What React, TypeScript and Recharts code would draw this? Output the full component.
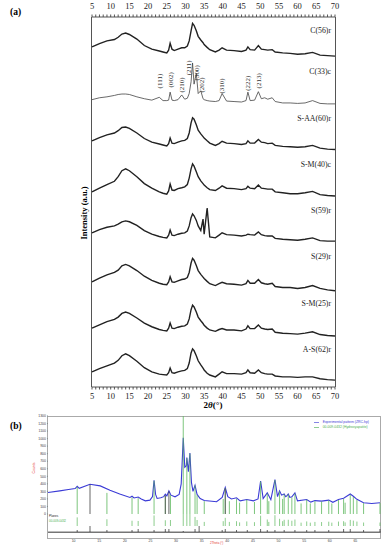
import React from "react";
import { ComposedChart, Line, Scatter, XAxis, YAxis, Legend } from "recharts";

// ---- (a) eight XRD patterns, shared 2θ grid ----
const twoTheta = [5, 7, 9, 11, 12, 13, 14, 15, 17, 19, 21, 23, 24, 25, 25.5, 25.9, 26.4, 27, 28, 29, 29.8, 30.5, 31, 31.5, 31.9, 32.3, 32.9, 33.4, 34.1, 34.7, 35, 35.8, 36.5, 38, 39, 39.8, 41, 43, 45, 46.2, 46.7, 47.3, 48.5, 49.5, 50.3, 51.2, 52, 53.2, 54, 56, 58, 60, 62, 64, 66, 68, 70];

const c56r = [35, 42, 48, 51, 56, 63, 65, 62, 52, 38, 30, 26, 24, 22, 28, 43, 30, 27, 30, 33, 33, 37, 48, 70, 86, 82, 70, 58, 50, 44, 40, 34, 29, 24, 28, 33, 28, 27, 25, 28, 35, 29, 28, 38, 30, 29, 28, 29, 24, 22, 21, 19, 20, 23, 17, 16, 15];
const c33c = [22, 26, 28, 31, 33, 34, 34, 33, 28, 24, 21, 27, 20, 20, 21, 38, 21, 20, 22, 32, 23, 25, 35, 60, 100, 55, 78, 35, 41, 24, 22, 20, 19, 18, 20, 35, 19, 18, 17, 20, 38, 20, 21, 39, 24, 26, 23, 26, 18, 15, 15, 14, 15, 20, 14, 13, 13];
const sAA60r = [33, 40, 46, 50, 55, 62, 63, 60, 50, 38, 30, 26, 24, 22, 27, 39, 28, 27, 30, 33, 34, 38, 50, 72, 83, 80, 68, 56, 48, 42, 39, 33, 28, 23, 27, 32, 28, 27, 25, 27, 33, 28, 28, 36, 30, 29, 27, 28, 23, 21, 20, 19, 20, 23, 17, 15, 14];
const sM40c = [22, 30, 38, 45, 55, 68, 72, 68, 55, 40, 30, 22, 19, 17, 24, 39, 26, 25, 29, 31, 33, 38, 52, 72, 83, 78, 66, 55, 46, 40, 37, 31, 27, 25, 30, 35, 30, 29, 27, 29, 34, 30, 29, 37, 30, 29, 28, 28, 22, 20, 18, 18, 20, 23, 16, 14, 13];
const s59r = [33, 40, 45, 48, 52, 57, 59, 57, 49, 38, 30, 25, 23, 22, 28, 39, 28, 27, 30, 32, 33, 37, 48, 66, 74, 70, 60, 48, 38, 63, 30, 87, 24, 22, 28, 33, 29, 28, 26, 28, 30, 29, 28, 35, 29, 27, 26, 26, 21, 19, 18, 17, 19, 22, 16, 15, 15];
const s29r = [28, 36, 43, 48, 53, 62, 65, 62, 52, 40, 31, 25, 23, 22, 28, 39, 28, 27, 30, 33, 34, 37, 48, 68, 78, 74, 63, 52, 44, 38, 35, 29, 24, 20, 24, 27, 24, 23, 21, 24, 31, 25, 25, 33, 26, 24, 23, 25, 18, 16, 16, 14, 16, 20, 14, 11, 9];
const sM25r = [28, 35, 42, 47, 52, 60, 63, 60, 50, 39, 31, 25, 23, 22, 28, 39, 28, 27, 30, 32, 33, 37, 48, 68, 78, 74, 63, 52, 44, 38, 34, 28, 24, 21, 25, 27, 24, 24, 22, 26, 33, 27, 27, 35, 28, 26, 25, 26, 19, 17, 16, 15, 17, 20, 14, 12, 11];
const aS62r = [33, 40, 46, 52, 58, 68, 72, 68, 56, 42, 33, 28, 27, 26, 31, 41, 31, 30, 33, 35, 36, 40, 52, 74, 83, 79, 68, 57, 48, 41, 37, 30, 26, 22, 28, 33, 29, 29, 28, 31, 37, 31, 30, 37, 31, 29, 28, 28, 24, 22, 22, 21, 22, 22, 18, 16, 15];

const sampleNames = ["C(56)r", "C(33)c", "S-AA(60)r", "S-M(40)c", "S(59)r", "S(29)r", "S-M(25)r", "A-S(62)r"];
const sampleValues = [c56r, c33c, sAA60r, sM40c, s59r, s29r, sM25r, aS62r];

// hkl labels on the C(33)c pattern
const planeLabels = ["(111)", "(002)", "(210)", "(211)", "(300)", "(202)", "(310)", "(222)", "(213)"];
const planeTheta = [23.2, 26.0, 29.0, 31.0, 33.0, 34.3, 39.8, 46.6, 49.6];
const planeHeight = [46, 48, 37, 74, 63, 37, 35, 41, 46];

// ---- (b) experimental pattern + reference card ----
const bTheta = [5, 7.3, 9, 10.3, 10.7, 11.1, 13.2, 15.2, 17.1, 19, 21, 21.4, 21.8, 22.6, 23.2, 24, 24.9, 25.4, 25.7, 26.0, 26.3, 27.0, 27.6, 27.9, 28.2, 28.6, 29.0, 29.8, 30.6, 31.0, 31.4, 31.7, 32.0, 32.1, 32.4, 32.7, 33.0, 33.3, 33.7, 34.1, 34.7, 35.5, 37, 37.9, 39.0, 39.6, 40.1, 40.8, 41.8, 42.5, 43.8, 45.1, 46.0, 46.5, 47.0, 47.8, 48.5, 49.3, 49.8, 50.2, 50.6, 51.1, 51.4, 51.6, 51.9, 52.2, 52.6, 53.2, 53.7, 55.5, 56.3, 57.1, 58.4, 59.8, 60.6, 61.7, 62.7, 64.0, 64.6, 65.3, 66.6, 68.2, 69.8];
const bCounts = [285, 307, 325, 338, 368, 340, 395, 373, 316, 265, 219, 235, 212, 225, 200, 175, 184, 230, 447, 260, 206, 215, 230, 262, 240, 307, 250, 228, 260, 400, 1010, 620, 640, 750, 560, 810, 420, 300, 381, 260, 206, 178, 170, 162, 220, 351, 230, 200, 215, 175, 193, 175, 200, 438, 205, 281, 190, 456, 230, 307, 250, 265, 230, 241, 265, 220, 228, 281, 175, 193, 158, 178, 171, 184, 155, 193, 210, 265, 235, 195, 150, 140, 150];

const refTheta = [10.7, 16.5, 21.4, 22.6, 25.7, 27.9, 28.9, 31.4, 32.1, 32.7, 33.7, 34.1, 35.5, 39.2, 39.6, 40.4, 41.8, 42.4, 43.8, 45.3, 46.5, 47.8, 48.1, 49.3, 50.2, 50.8, 51.1, 51.9, 52.6, 53.2, 54.4, 55.5, 56.2, 57.1, 58.4, 59.8, 60.4, 61.7, 62.7, 63.0, 64.0, 64.6, 65.3, 66.6, 69.8];
const refCounts = [360, 280, 220, 210, 440, 240, 250, 1300, 740, 800, 380, 250, 170, 200, 340, 170, 200, 150, 190, 160, 430, 270, 170, 450, 300, 200, 260, 260, 220, 270, 140, 190, 140, 170, 165, 180, 140, 185, 200, 150, 255, 225, 185, 145, 145];

const darkTheta = [13.2, 27.9, 28.6, 39.6];
const darkCounts = [390, 250, 300, 340];

const planeRowTheta = [10.7, 13.2, 16.5, 21.4, 22.6, 25.7, 27.9, 28.6, 31.4, 33.7, 34.5, 39.0, 39.6, 41.8, 43.9, 46.5, 47.8, 49.3, 51.1, 53.2, 55.5, 57.1, 59.8, 62.7, 64.0, 66.6, 69.8];
const planeRowLen = [2, 6, 2, 2, 3, 2, 3, 3, 1, 3, 6, 2, 3, 2, 2, 3, 2, 2, 2, 2, 2, 2, 2, 3, 3, 2, 3];

const degTicks = Array.from({ length: 66 }, (_, i) => 5 + i);
const bXTicks = [10, 15, 20, 25, 30, 35, 40, 45, 50, 55, 60, 65];
const bYTicks = [0, 100, 200, 300, 400, 500, 600, 700, 800, 900, 1000, 1100, 1200, 1300];

const EXP_NAME = "Experimental pattern (ZRC-hp)";
const REF_NAME = "00-009-0432 (Hydroxyapatite)";

const serif = "'Liberation Serif', 'Times New Roman', serif";
const sans = "'Liberation Sans', Arial, sans-serif";
const panelTops = [17, 63, 110, 156, 202, 248, 295, 341, 387];

const DegTick = (props: any) => {
  const { x, y, payload, top } = props;
  if (payload.value % 5 !== 0) return <g />;
  return (
    <text x={x} y={y} dy={top ? -3.5 : 7} textAnchor="middle" fontSize={8.5} fontFamily={serif} fill="#222">
      {payload.value}
    </text>
  );
};

const NoLabel = () => <g />;

const PlaneLabel = (props: any) => {
  const { cx, cy, payload } = props;
  return (
    <text x={cx} y={cy} transform={`rotate(-90 ${cx} ${cy})`} fontSize={7} fontFamily={serif} fill="#333" dominantBaseline="central">
      {payload.label}
    </text>
  );
};

const stick = (base: number, color: string, width = 0.8) => (props: any) => (
  <line x1={props.cx} x2={props.cx} y1={Math.max(props.cy, 0)} y2={base} stroke={color} strokeWidth={width} />
);

const BTick = (props: any) => (
  <text x={props.x} y={props.y} dy={9.5} textAnchor="middle" fontSize={3.5} fontFamily={sans} fill="#444">
    {props.payload.value}
  </text>
);

function XrdPanel({ index }: { index: number }) {
  const first = index === 0;
  const last = index === sampleNames.length - 1;
  const padTop = first ? 17 : 0;
  const padBottom = last ? 18 : 0;
  const plotH = panelTops[index + 1] - panelTops[index];
  const h = plotH + padTop + padBottom;
  const values = sampleValues[index];
  const data = twoTheta.map((x, i) => ({ x, y: values[i] }));
  const crystalline = index === 1;
  const planes = planeTheta.map((x, i) => ({ x, y: planeHeight[i], label: planeLabels[i] }));
  return (
    <div style={{ position: "absolute", left: 92, top: panelTops[index] - padTop, width: 243, height: h }}>
      <ComposedChart width={243} height={h} data={data} margin={{ top: 0, right: 0, bottom: 0, left: 0 }}>
        <XAxis
          xAxisId="b"
          dataKey="x"
          type="number"
          domain={[5, 70]}
          ticks={degTicks}
          interval={0}
          height={padBottom}
          tickSize={2.5}
          stroke="#555"
          tickLine={{ stroke: "#444", strokeWidth: 0.9 }}
          tick={last ? <DegTick /> : <NoLabel />}
        />
        <XAxis
          xAxisId="t"
          orientation="top"
          dataKey="x"
          type="number"
          domain={[5, 70]}
          ticks={degTicks}
          interval={0}
          height={padTop}
          tickSize={2.5}
          stroke="#555"
          tickLine={{ stroke: "#444", strokeWidth: 0.9 }}
          tick={first ? <DegTick top /> : <NoLabel />}
        />
        <YAxis dataKey="y" hide domain={[0, 100]} />
        <Line
          xAxisId="b"
          dataKey="y"
          type="linear"
          dot={false}
          stroke={crystalline ? "#444" : "#222"}
          strokeWidth={crystalline ? 0.8 : 1.4}
          isAnimationActive={false}
        />
        {crystalline && <Scatter xAxisId="b" data={planes} dataKey="y" shape={PlaneLabel} isAnimationActive={false} />}
      </ComposedChart>
      <div
        style={{
          position: "absolute",
          right: 4,
          top: padTop + (first ? 10 : 5),
          fontSize: 7.8,
          fontFamily: serif,
          color: "#222",
          lineHeight: 1,
        }}
      >
        {sampleNames[index]}
      </div>
    </div>
  );
}

const rotated = (cx: number, cy: number): React.CSSProperties => ({
  position: "absolute",
  left: cx,
  top: cy,
  transform: "translate(-50%, -50%) rotate(-90deg)",
  whiteSpace: "nowrap",
  lineHeight: 1,
});

export default function App() {
  const expRows = bTheta.map((x, i) => ({ x, exp: bCounts[i] }));
  const refRows = refTheta.map((x, i) => ({ x, ref: refCounts[i] }));
  const darkRows = darkTheta.map((x, i) => ({ x, dark: darkCounts[i] }));
  const planeRows = planeRowTheta.map((x, i) => ({ x, len: planeRowLen[i] }));

  return (
    <div style={{ position: "absolute", left: 0, top: 0, width: 391, height: 550, background: "#fff", fontFamily: serif, overflow: "hidden" }}>
      <style>{".recharts-surface{overflow:visible}"}</style>

      {/* (a) */}
      <div style={{ position: "absolute", left: 10, top: 7, fontSize: 9.5, fontWeight: "bold" }}>(a)</div>
      <div style={{ position: "absolute", left: 91, top: 17, width: 243, height: 370, borderLeft: "1px solid #555", borderRight: "1px solid #555" }} />
      {sampleNames.map((_, i) => (
        <XrdPanel key={i} index={i} />
      ))}
      <div style={{ ...rotated(84, 213), fontSize: 8.5, fontWeight: "bold" }}>Intensity (a.u.)</div>
      <div style={{ position: "absolute", left: 213, top: 405, transform: "translate(-50%, -50%)", fontSize: 9, fontWeight: "bold", lineHeight: 1 }}>
        2<i>θ</i>(°)
      </div>

      {/* (b) */}
      <div style={{ position: "absolute", left: 10, top: 421, fontSize: 9.5, fontWeight: "bold" }}>(b)</div>
      <div style={{ position: "absolute", left: 47, top: 416, width: 334, height: 123, border: "1px solid #aaa", boxSizing: "border-box" }} />
      <div style={{ position: "absolute", left: 48, top: 532, width: 333, height: 0, borderTop: "1px solid #777" }} />
      <div style={{ ...rotated(35, 468), fontSize: 3.5, color: "#e53935", fontFamily: sans }}>Counts</div>

      <div style={{ position: "absolute", left: 38, top: 416 }}>
        <ComposedChart width={343} height={98} data={expRows} margin={{ top: 0, right: 0, bottom: 0, left: 0 }}>
          <XAxis dataKey="x" type="number" domain={[5, 70]} ticks={bXTicks} height={0} tick={false} tickLine={false} stroke="#666" />
          <YAxis type="number" domain={[0, 1300]} ticks={bYTicks} interval={0} width={10} tickSize={1} tickMargin={1} axisLine={false} stroke="#888" tick={{ fontSize: 3.5, fill: "#444", fontFamily: sans }} allowDataOverflow />
          <Legend
            layout="vertical"
            align="center"
            verticalAlign="middle"
            iconSize={5}
            itemSorter={(item: any) => (item.value === EXP_NAME ? 0 : 1)}
            wrapperStyle={{ top: 4, left: "auto", right: 2, width: "auto", fontSize: 3.4, lineHeight: "4px", fontFamily: sans }}
          />
          <Scatter name={REF_NAME} data={refRows} dataKey="ref" fill="#4caf50" legendType="plainline" shape={stick(98, "#5cb85c")} isAnimationActive={false} />
          <Scatter data={darkRows} dataKey="dark" fill="#555" legendType="none" shape={stick(98, "#555", 0.9)} isAnimationActive={false} />
          <Line name={EXP_NAME} dataKey="exp" type="linear" dot={false} stroke="#3b3bd6" strokeWidth={1.1} isAnimationActive={false} legendType="plainline" />
        </ComposedChart>
      </div>

      <div style={{ position: "absolute", left: 49, top: 515, fontSize: 3, fontFamily: sans, color: "#222", lineHeight: 1 }}>Planes</div>
      <div style={{ position: "absolute", left: 49, top: 520, fontSize: 3, fontFamily: sans, color: "#4caf50", lineHeight: 1 }}>00-009-0432</div>

      <div style={{ position: "absolute", left: 48, top: 514 }}>
        <ComposedChart width={333} height={12} data={refRows} margin={{ top: 0, right: 0, bottom: 0, left: 0 }}>
          <XAxis dataKey="x" type="number" domain={[5, 70]} height={0} tick={false} tickLine={false} stroke="#777" />
          <YAxis hide type="number" domain={[0, 500]} allowDataOverflow />
          <Scatter dataKey="ref" shape={stick(12, "#5cb85c", 0.7)} isAnimationActive={false} />
        </ComposedChart>
      </div>

      <div style={{ position: "absolute", left: 48, top: 526 }}>
        <ComposedChart width={333} height={20} data={planeRows} margin={{ top: 0, right: 0, bottom: 0, left: 0 }}>
          <XAxis dataKey="x" type="number" domain={[5, 70]} ticks={bXTicks} interval={0} height={14} tickSize={0} tickMargin={0} tickLine={false} stroke="#777" tick={<BTick />} />
          <YAxis hide type="number" domain={[0, 6]} />
          <Scatter dataKey="len" shape={stick(6, "#222", 0.7)} isAnimationActive={false} />
        </ComposedChart>
      </div>
      <div style={{ position: "absolute", left: 210, top: 542, fontSize: 3, fontFamily: sans, color: "#e53935", lineHeight: 1 }}>2Theta (°)</div>
    </div>
  );
}
